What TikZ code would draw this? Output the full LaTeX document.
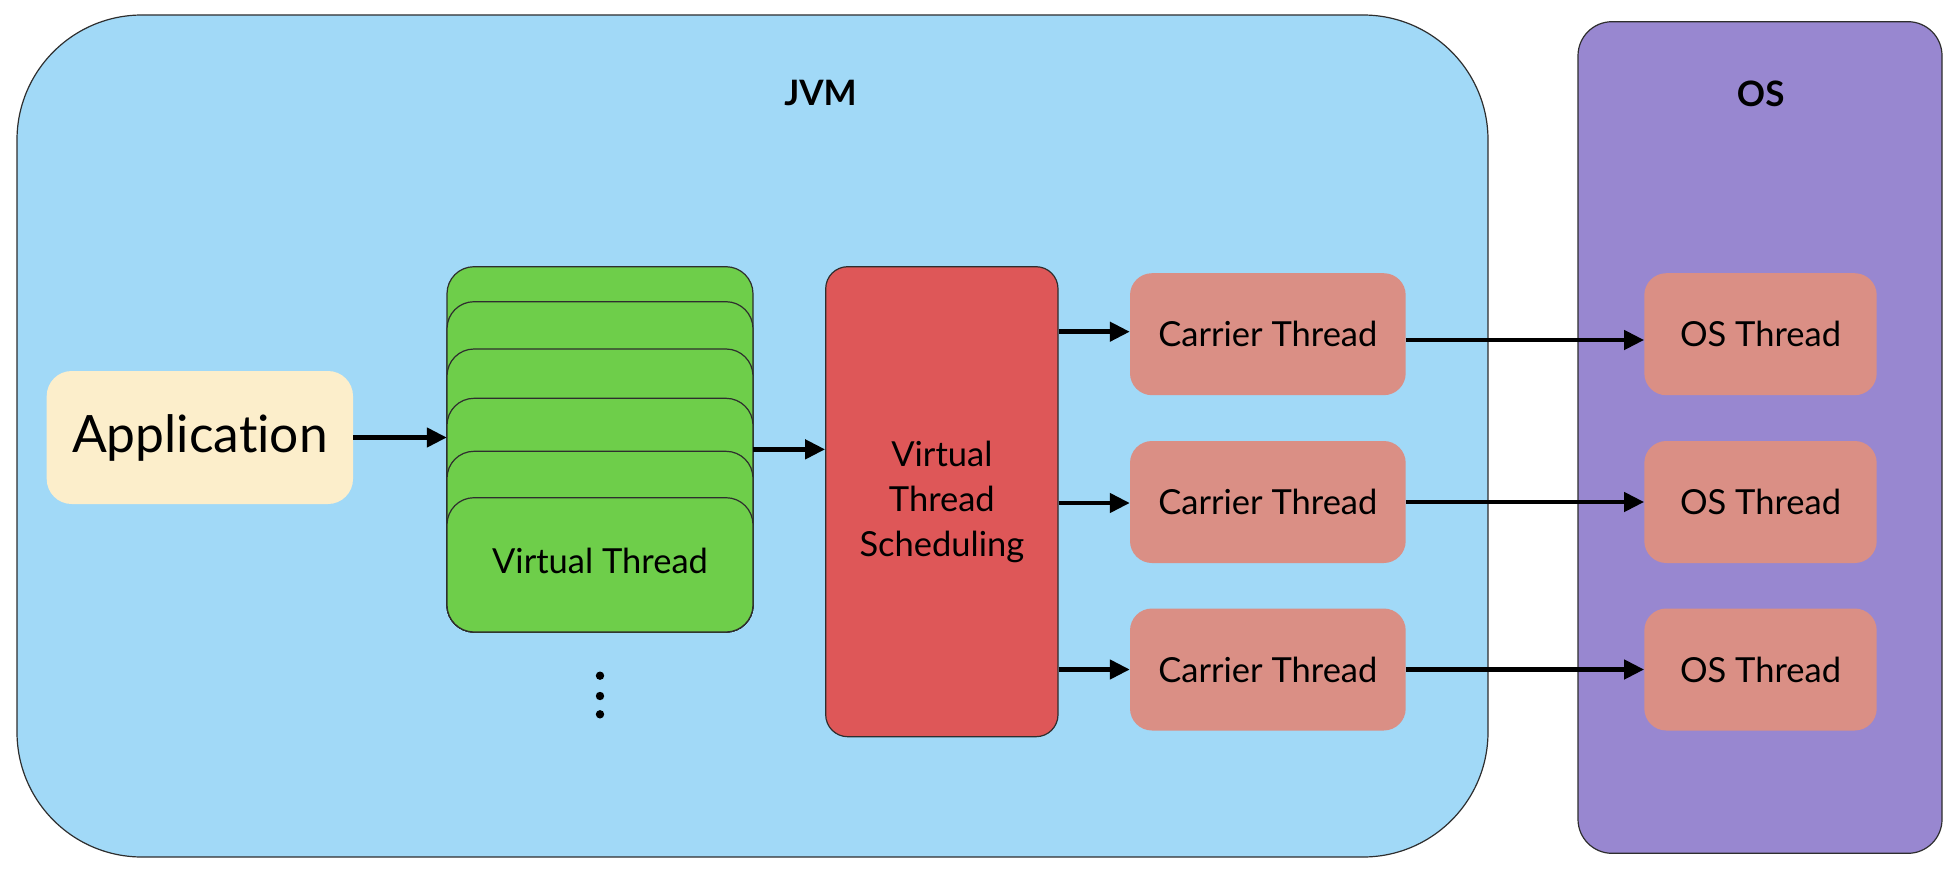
\documentclass[tikz,border=0pt]{standalone}
\usepackage{fontspec}
\setmainfont{Lato}[Ligatures={NoCommon,NoRequired}]
\usetikzlibrary{arrows.meta}
\definecolor{jvmfill}{HTML}{A1D9F7}
\definecolor{osfill}{HTML}{9887D0}
\definecolor{appfill}{HTML}{FCEECB}
\definecolor{vtfill}{HTML}{6ECE4A}
\definecolor{schedfill}{HTML}{DE5758}
\definecolor{thrfill}{HTML}{DA8F85}
\definecolor{edgecol}{HTML}{2E2E2E}
\tikzset{
  region/.style={draw=edgecol, line width=1.2pt, rectangle, inner sep=0pt},
  appbox/.style={fill=appfill, rectangle, rounded corners=25pt, inner sep=0pt,
    minimum width=306.3pt, minimum height=133pt,
    font=\fontsize{51.5}{60}\selectfont},
  vtlayer/.style={draw=edgecol, line width=1.2pt, fill=vtfill, rounded corners=27pt},
  schedbox/.style={draw=edgecol, line width=1.2pt, fill=schedfill, rectangle, rounded corners=22pt,
    inner sep=0pt, minimum width=232.3pt, minimum height=470pt, align=center,
    font=\fontsize{34.5}{45}\selectfont},
  thrbox/.style={fill=thrfill, rectangle, rounded corners=22pt, inner sep=0pt,
    minimum height=122pt, font=\fontsize{34.5}{42}\selectfont},
  title/.style={anchor=base, font=\fontsize{35}{42}\selectfont\bfseries},
  conn/.style={line width=4.5pt, -{Triangle[length=20pt,width=19pt]}},
}
\begin{document}
\begin{tikzpicture}[x=1pt,y=-1pt]
\useasboundingbox (0,0) rectangle (1956,880);
% regions
\node[region, fill=jvmfill, rounded corners=125pt, minimum width=1471pt, minimum height=842pt] (jvm) at (752.5,436) {};
\node[region, fill=osfill, rounded corners=34pt, minimum width=364pt, minimum height=831.6pt] (os) at (1760,437.5) {};
\node[title] (jvmt) at (820.5,106) {JVM};
\node[title] (ost) at (1760.7,106.7) {OS};
% application
\node[appbox] (app) at (199.85,437.5) {Application};
% virtual thread stack
\node[rectangle, inner sep=0pt, minimum width=306pt, minimum height=365.3pt] (stack) at (600,449.35) {};
\draw[vtlayer] (447,266.7) rectangle (753,632);
\draw[vtlayer] (447,301.7) rectangle (753,632);
\draw[vtlayer] (447,349) rectangle (753,632);
\draw[vtlayer] (447,398.3) rectangle (753,632);
\draw[vtlayer] (447,451.3) rectangle (753,632);
\draw[vtlayer] (447,497.7) rectangle (753,632);
\node[font=\fontsize{34.5}{42}\selectfont, inner sep=0pt] (vt) at (600,561) {Virtual Thread};
% dots
\fill (600,675.7) circle (4.2);
\fill (600,696) circle (4.2);
\fill (600,714.3) circle (4.2);
% scheduler
\node[schedbox] (sched) at (941.85,501.7) {Virtual\\Thread\\Scheduling};
% carrier threads
\node[thrbox, minimum width=275.7pt] (c1) at (1267.85,334.2) {Carrier Thread};
\node[thrbox, minimum width=275.7pt] (c2) at (1267.85,502) {Carrier Thread};
\node[thrbox, minimum width=275.7pt] (c3) at (1267.85,669.5) {Carrier Thread};
% OS threads
\node[thrbox, minimum width=232.4pt] (o1) at (1760.5,334.2) {OS Thread};
\node[thrbox, minimum width=232.4pt] (o2) at (1760.5,502) {OS Thread};
\node[thrbox, minimum width=232.4pt] (o3) at (1760.5,669.5) {OS Thread};
% connectors
\draw[conn] (app.east) -- (app.east -| stack.west);
\draw[conn] (stack.east) -- (stack.east -| sched.west);
\draw[conn] ([yshift=2.5pt]c1.west -| sched.east) -- ([yshift=2.5pt]c1.west);
\draw[conn] ([yshift=-1pt]c2.west -| sched.east) -- ([yshift=-1pt]c2.west);
\draw[conn] (c3.west -| sched.east) -- (c3.west);
\draw[conn] ([yshift=-5.8pt]c1.east) -- ([yshift=-5.8pt]o1.west);
\draw[conn] (c2.east) -- (o2.west);
\draw[conn] (c3.east) -- (o3.west);
\end{tikzpicture}
\end{document}
